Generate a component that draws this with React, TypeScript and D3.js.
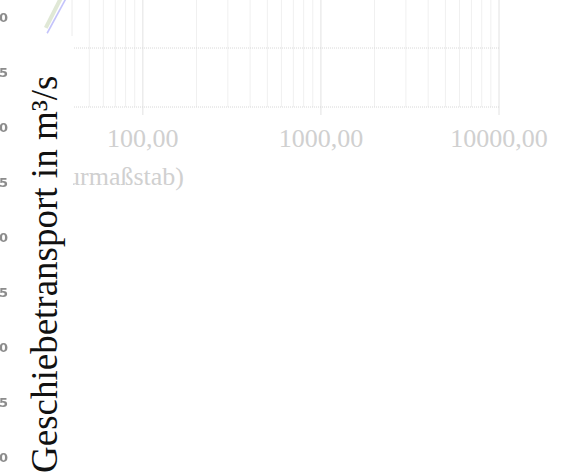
import React from "react";
import * as d3 from "d3";

// Faded background chart (discharge, log scale)
const majorTicks = [100, 1000, 10000];
const majorTickLabels = ["100,00", "1000,00", "10000,00"];
const minorTicks = [50, 60, 70, 80, 90, 200, 300, 400, 500, 600, 700, 800, 900, 2000, 3000, 4000, 5000, 6000, 7000, 8000, 9000];
const hGridValues = [0, 1];
const xTitle = "Abfluss in m³/s (Naturmaßstab)";

// Two series of the faded chart (discharge, transport)
const seriesGreen = [
  { q: 28.5, v: 1.34 },
  { q: 36.5, v: 1.98 },
];
const seriesBlue = [
  { q: 29.0, v: 1.25 },
  { q: 39.2, v: 1.98 },
];

// Left y-axis tick labels of the underlying chart
const yTickValues = [0, 0.25, 0.5, 0.75, 1.0, 1.25, 1.5, 1.75, 2.0];
const yTitle = "Geschiebetransport in m³/s";

const W = 561;
const H = 475;

export default function App() {
  const x = d3.scaleLog().domain([40, 10000]).range([72, 499]);
  const yTop = d3.scaleLinear().domain([0, 1]).range([107, 48]);
  const yLeft = d3.scaleLinear().domain([0, 2]).range([457, 17]);
  const line = d3
    .line<{ q: number; v: number }>()
    .x((d) => x(d.q))
    .y((d) => yTop(d.v));
  const fmt = (v: number) => v.toFixed(2).replace(".", ",");

  return (
    <svg
      width={W}
      height={H}
      style={{ position: "absolute", left: 0, top: 0, background: "#fff" }}
    >
      <defs>
        <filter id="blur" x="-50%" y="-50%" width="200%" height="200%">
          <feGaussianBlur stdDeviation="0.5" />
        </filter>
      </defs>
      {/* faded chart */}
      <g>
        {minorTicks.map((t) => (
          <line key={"mi" + t} x1={x(t)} x2={x(t)} y1={0} y2={yTop(0)} stroke="#f0f0f0" strokeWidth={1} />
        ))}
        <line x1={x(40)} x2={x(40)} y1={0} y2={yTop(0)} stroke="#ececec" strokeWidth={1} />
        {majorTicks.map((t) => (
          <line key={"ma" + t} x1={x(t)} x2={x(t)} y1={0} y2={yTop(0) + 8} stroke="#e2e2e2" strokeWidth={1} />
        ))}
        {hGridValues.map((v) => (
          <line key={"h" + v} x1={x(40)} x2={x(10000)} y1={yTop(v)} y2={yTop(v)} stroke="#d8d8d8" strokeWidth={1} strokeDasharray="1,1" />
        ))}
        <path d={line(seriesGreen) || ""} fill="none" stroke="#e0e8d6" strokeWidth={4} />
        <path d={line(seriesBlue) || ""} fill="none" stroke="#c4c4fb" strokeWidth={1.6} />
        {majorTicks.map((t, i) => (
          <text
            key={"ml" + t}
            x={x(t)}
            y={147}
            textAnchor="middle"
            fontFamily="'Liberation Serif', serif"
            fontSize={26}
            fill="#d0d0d0"
          >
            {majorTickLabels[i]}
          </text>
        ))}
        <text
          x={184}
          y={185}
          textAnchor="end"
          fontFamily="'Liberation Serif', serif"
          fontSize={26}
          fill="#d0d0d0"
        >
          {xTitle}
        </text>
      </g>
      {/* cover */}
      <rect x={0} y={36} width={73} height={H - 36} fill="#fff" />
      {/* left tick labels */}
      {yTickValues.map((v) => (
        <text
          key={"y" + v}
          x={8}
          y={yLeft(v) + 5}
          textAnchor="end"
          fontFamily="'DejaVu Sans', sans-serif"
          fontWeight="bold"
          fontSize={13}
          fill="#8c8c8c"
          filter="url(#blur)"
        >
          {fmt(v)}
        </text>
      ))}
      {/* y-axis title */}
      <text
        transform="translate(57,473) rotate(-90)"
        fontFamily="'Liberation Serif', serif"
        fontSize={37}
        fill="#111"
      >
        {yTitle}
      </text>
    </svg>
  );
}
